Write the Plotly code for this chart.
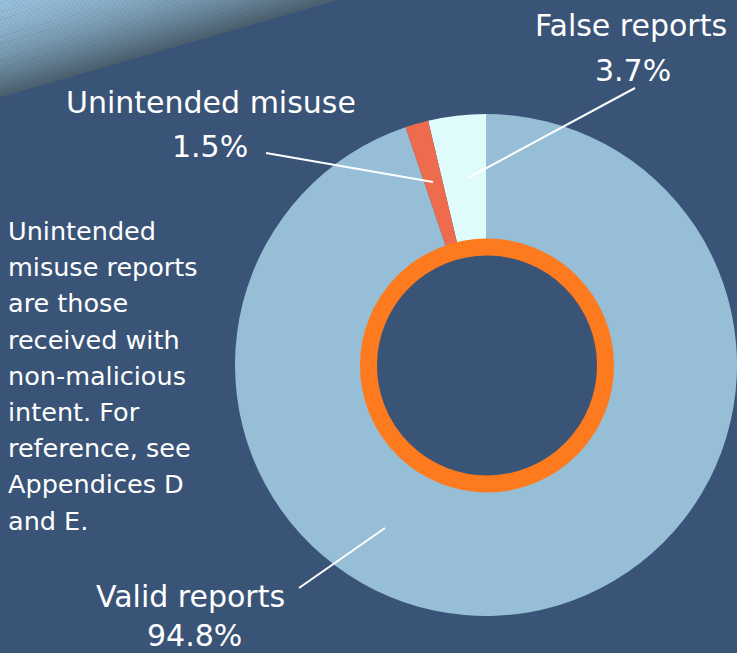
import plotly.graph_objects as go

# ---- data ----
categories = ["False reports", "Unintended misuse", "Valid reports"]
values = [3.7, 1.5, 94.8]
pct_labels = ["3.7%", "1.5%", "94.8%"]
slice_colors = ["#E0FBFC", "#EE6C4D", "#97BED7"]
note_lines = ["Unintended", "misuse reports", "are those", "received with",
              "non-malicious", "intent. For", "reference, see", "Appendices D", "and E."]

W, H = 737, 653
BG = "#3A5478"
ORANGE = "#FD7A1F"
FONT = "DejaVu Sans"

fig = go.Figure()

# donut: center (487,365), radius ~251; first slice starts at 12 o'clock going counterclockwise
fig.add_trace(go.Pie(
    labels=categories, values=values, sort=False, direction="counterclockwise",
    rotation=-values[0] / sum(values) * 360, hole=0.4, textinfo="none", hoverinfo="skip",
    showlegend=False,
    marker=dict(colors=slice_colors, line=dict(width=0)),
    domain=dict(x=[235 / W, 1.0], y=[37 / H, 539 / H]),
))

shapes = []
# gradient triangle top-left
N = 40
light = (152, 193, 220)
dark = (74, 94, 108)
for i in range(N):
    f1, f2 = i / N, (i + 1) / N
    g = ((f1 + f2) / 2) ** 1.6
    c = tuple(int(round(light[k] * (1 - g) + dark[k] * g)) for k in range(3))
    path = f"M {337*f1},0 L {337*f2+0.6},0 L 0,{97*f2+0.2} L 0,{97*f1} Z"
    shapes.append(dict(type="path", path=path, xref="x", yref="y",
                       fillcolor=f"rgb{c}", line=dict(width=0), layer="below"))

# orange ring with dark centre
cx, cy, r = 487, 365.5, 118.5
shapes.append(dict(type="circle", xref="x", yref="y", x0=cx - r, x1=cx + r, y0=cy - r, y1=cy + r,
                   fillcolor=BG, line=dict(color=ORANGE, width=17), layer="above"))

# leader lines
leaders = [((635, 88), (468, 178)), ((266, 153), (433, 182)), ((299, 588), (385, 528))]
for (x0, y0), (x1, y1) in leaders:
    shapes.append(dict(type="line", xref="x", yref="y", x0=x0, y0=y0, x1=x1, y1=y1,
                       line=dict(color="white", width=2), layer="above"))

ann = []
label_pos = [((631, 25), (633, 70)), ((211, 102), (210, 146)), ((190, 596), (194, 635.5))]
for name, pct, (p1, p2) in zip(categories, pct_labels, label_pos):
    ann.append(dict(x=p1[0], y=p1[1], text=name, showarrow=False, xref="x", yref="y",
                    xanchor="center", yanchor="middle", font=dict(family=FONT, size=30, color="white")))
    ann.append(dict(x=p2[0], y=p2[1], text=pct, showarrow=False, xref="x", yref="y",
                    xanchor="center", yanchor="middle", font=dict(family=FONT, size=30, color="white")))

for i, line in enumerate(note_lines):
    base = 238 + 36.2 * i
    ann.append(dict(x=6, y=base - 7, text=line, showarrow=False, xref="x", yref="y",
                    xanchor="left", yanchor="middle", font=dict(family=FONT, size=25.5, color="white")))

fig.update_layout(
    width=W, height=H, margin=dict(l=0, r=0, t=0, b=0),
    paper_bgcolor=BG, plot_bgcolor=BG,
    xaxis=dict(range=[0, W], visible=False, fixedrange=True),
    yaxis=dict(range=[H, 0], visible=False, fixedrange=True),
    shapes=shapes, annotations=ann,
)

fig.write_html("out.html", config={"displayModeBar": False},
               post_script="document.body.style.margin='0';document.body.style.padding='0';"
                           "document.body.style.overflow='hidden';")
